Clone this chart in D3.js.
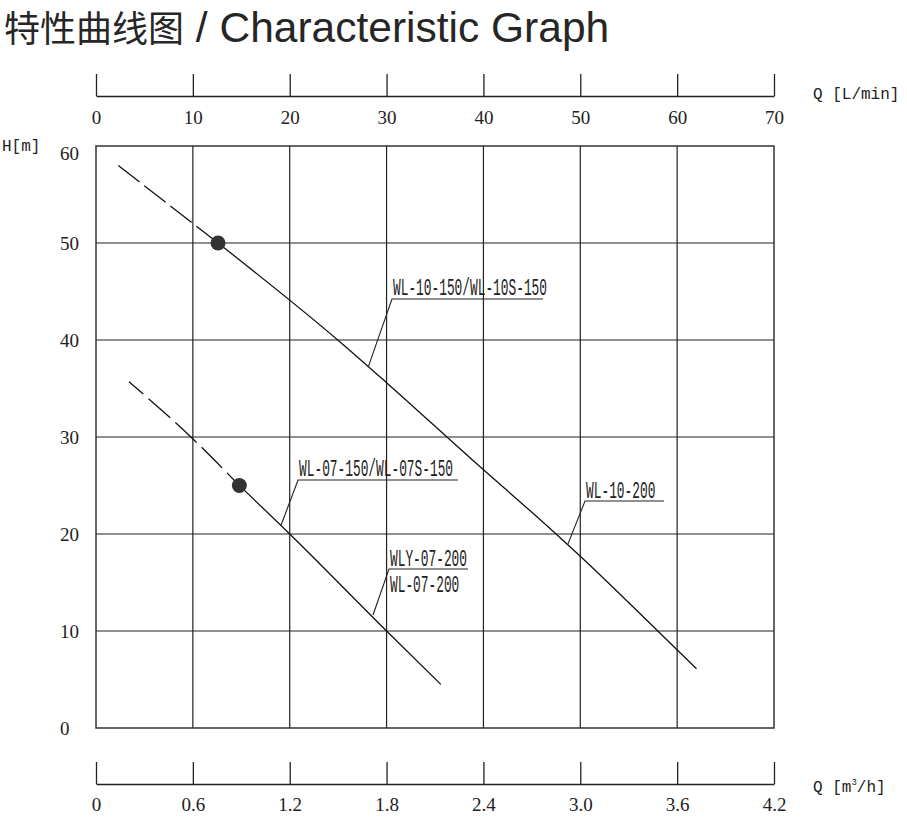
<!DOCTYPE html>
<html><head><meta charset="utf-8">
<script src="https://cdn.jsdelivr.net/npm/d3@7/dist/d3.min.js"></script>
<style>
html,body{margin:0;padding:0;background:#fff;}
svg{display:block;}
</style></head>
<body>
<svg id="chart" width="907" height="818"></svg>
<script>
// ---- data ----
const qLpmTicks = [0, 10, 20, 30, 40, 50, 60, 70];
const qM3hTicks = [0, 0.6, 1.2, 1.8, 2.4, 3.0, 3.6, 4.2];
const hTicks = [0, 10, 20, 30, 40, 50, 60];

// WL-10 curve (Q in L/min, H in m)
const upperDashQ = [2.3, 12.6];
const upperDashH = [58.0, 50.0];
const upperSolidQ = [12.6, 25.2, 30, 38.9, 47.5, 50, 58, 62];
const upperSolidH = [50.0, 39.8, 35.6, 27.6, 20.0, 17.7, 10.0, 6.1];

// WL-07 curve
const lowerDashQ = [3.4, 9.8, 14.8];
const lowerDashH = [35.7, 30.0, 25.0];
const lowerSolidQ = [14.8, 20, 30, 35.6];
const lowerSolidH = [25.0, 20.0, 10.0, 4.5];

// rated points
const pointQ = [12.6, 14.8];
const pointH = [50.0, 25.0];

// annotations: leader tip (on curve), elbow, underline end, texts
const labelTexts = [["WL-10-150/WL-10S-150"], ["WL-07-150/WL-07S-150"], ["WLY-07-200", "WL-07-200"], ["WL-10-200"]];
const labelTipQ = [28.1, 19.1, 28.6, 48.7];
const labelTipH = [37.2, 20.9, 11.65, 18.9];
const labelElbowQ = [30.56, 20.86, 30.25, 50.49];
const labelElbowH = [44.23, 25.57, 16.39, 23.40];
const labelEndQ = [46.15, 37.37, 38.41, 58.65];

// ---- layout ----
const svg = d3.select("#chart");
const L = 96, R = 774, T = 146, B = 728;
const x = d3.scaleLinear().domain([0, 70]).range([L, R]);
const x2 = d3.scaleLinear().domain([0, 4.2]).range([L, R]);
const y = d3.scaleLinear().domain([0, 60]).range([B, T]);

// title
const title = svg.append("text")
  .attr("x", 4).attr("y", 42)
  .attr("font-family", "'Liberation Sans','Noto Sans CJK SC',sans-serif")
  .attr("fill", "#262626");
title.append("tspan").attr("font-size", 36).attr("font-family", "'Noto Sans CJK SC',sans-serif").text("特性曲线图");
title.append("tspan").attr("font-size", 42.5).text(" / Characteristic Graph");

const tickFont = "'Liberation Serif','DejaVu Serif',serif";
const monoFont = "'Liberation Mono','DejaVu Sans Mono',monospace";

// top axis (L/min)
const topAxis = svg.append("g").attr("transform", `translate(0,96)`)
  .call(d3.axisTop(x).tickValues(qLpmTicks).tickSize(22).tickSizeOuter(0).tickFormat(d3.format("d")));
topAxis.selectAll("text").attr("y", 28).attr("dy", "0").attr("font-family", tickFont).attr("font-size", 19).attr("fill", "#222");
topAxis.selectAll("line,path").attr("stroke", "#222").attr("stroke-width", 1.3);
svg.append("text").attr("x", 813).attr("y", 99).attr("font-family", monoFont).attr("font-size", 16).attr("fill", "#222").text("Q [L/min]");

// bottom axis (m3/h)
const botAxis = svg.append("g").attr("transform", `translate(0,784)`)
  .call(d3.axisTop(x2).tickValues(qM3hTicks).tickSize(22).tickSizeOuter(0).tickFormat(d => d === 0 ? "0" : d3.format(".1f")(d)));
botAxis.selectAll("text").attr("y", 27).attr("dy", "0").attr("font-family", tickFont).attr("font-size", 19).attr("fill", "#222");
botAxis.selectAll("line,path").attr("stroke", "#222").attr("stroke-width", 1.3);
const qm = svg.append("text").attr("x", 813).attr("y", 792).attr("font-family", monoFont).attr("font-size", 16).attr("fill", "#222");
qm.append("tspan").text("Q [m");
qm.append("tspan").attr("font-size", 9).attr("dy", -7).text("3");
qm.append("tspan").attr("dy", 7).text("/h]");

// left labels
svg.append("text").attr("x", 2).attr("y", 151).attr("font-family", monoFont).attr("font-size", 16).attr("fill", "#222").text("H[m]");
svg.append("g").selectAll("text").data(hTicks).join("text")
  .attr("x", 60).attr("y", d => y(d) + (d === 60 ? 14 : 7))
  .attr("font-family", tickFont).attr("font-size", 19).attr("fill", "#222")
  .text(d => d);

// grid
const grid = svg.append("g").attr("stroke", "#222").attr("stroke-width", 1.2);
grid.selectAll("line.v").data(qLpmTicks.slice(1, -1)).join("line").attr("class", "v")
  .attr("x1", d => x(d)).attr("x2", d => x(d)).attr("y1", T).attr("y2", B);
grid.selectAll("line.h").data(hTicks.slice(1, -1)).join("line").attr("class", "h")
  .attr("y1", d => y(d)).attr("y2", d => y(d)).attr("x1", L).attr("x2", R);
svg.append("rect").attr("x", L).attr("y", T).attr("width", R - L).attr("height", B - T)
  .attr("fill", "none").attr("stroke", "#333").attr("stroke-width", 1.5);

// curves
const line = d3.line().x(d => x(d[0])).y(d => y(d[1])).curve(d3.curveMonotoneX);
const zip = (a, b) => a.map((v, i) => [v, b[i]]);
svg.append("path").attr("d", line(zip(upperDashQ, upperDashH))).attr("fill", "none")
  .attr("stroke", "#111").attr("stroke-width", 1.3).attr("stroke-dasharray", "27,6");
svg.append("path").attr("d", line(zip(upperSolidQ, upperSolidH))).attr("fill", "none")
  .attr("stroke", "#111").attr("stroke-width", 1.3);
svg.append("path").attr("d", line(zip(lowerDashQ, lowerDashH))).attr("fill", "none")
  .attr("stroke", "#111").attr("stroke-width", 1.3).attr("stroke-dasharray", "29,7").attr("stroke-dashoffset", 10);
svg.append("path").attr("d", line(zip(lowerSolidQ, lowerSolidH))).attr("fill", "none")
  .attr("stroke", "#111").attr("stroke-width", 1.3);

// points
svg.append("g").selectAll("circle").data(zip(pointQ, pointH)).join("circle")
  .attr("cx", d => x(d[0])).attr("cy", d => y(d[1])).attr("r", 7.5).attr("fill", "#333");

// annotations
const ann = svg.append("g");
labelTexts.forEach((texts, i) => {
  const ex = x(labelElbowQ[i]), ey = y(labelElbowH[i]);
  ann.append("polyline")
    .attr("points", `${x(labelTipQ[i])},${y(labelTipH[i])} ${ex},${ey} ${x(labelEndQ[i])},${ey}`)
    .attr("fill", "none").attr("stroke", "#222").attr("stroke-width", 1.1);
  texts.forEach((t, j) => {
    const by = j === 0 ? ey - 3.5 : ey + 23;
    ann.append("text").attr("x", ex + 1).attr("y", by)
      .attr("font-family", monoFont).attr("font-size", 24).attr("fill", "#222")
      .attr("textLength", t.length * 7.7).attr("lengthAdjust", "spacingAndGlyphs")
      .text(t);
  });
});
</script>
</body></html>
